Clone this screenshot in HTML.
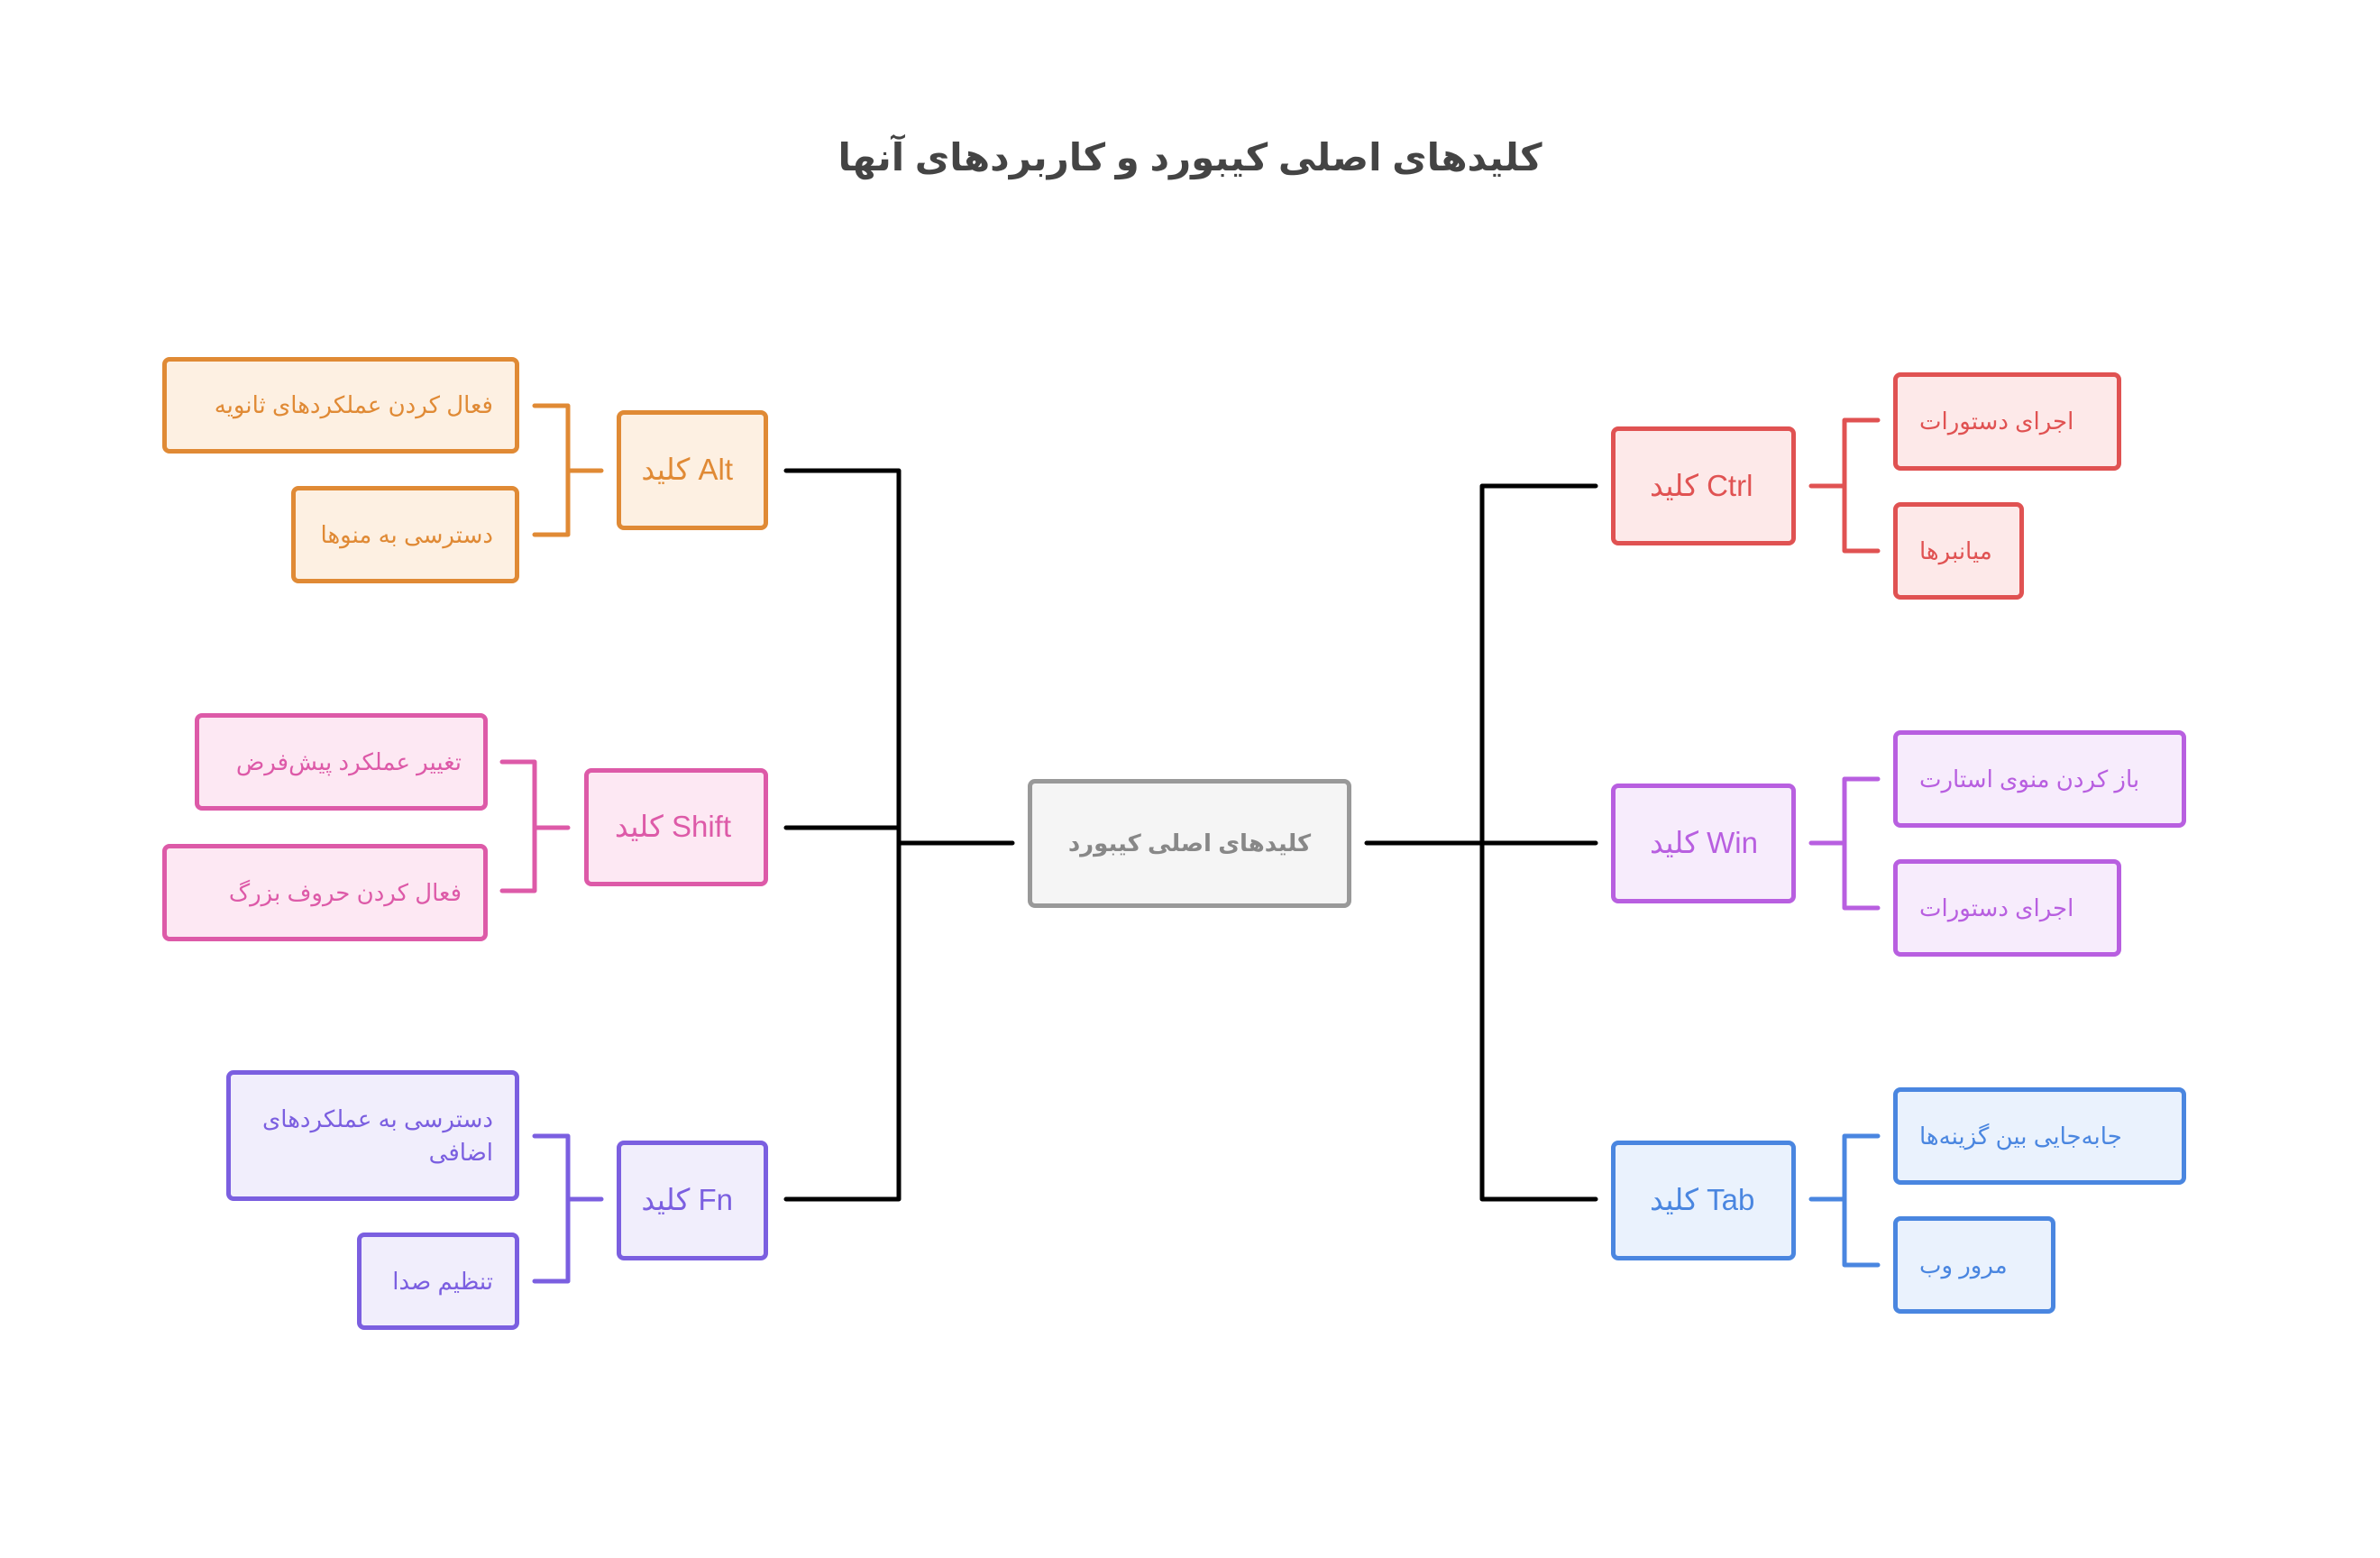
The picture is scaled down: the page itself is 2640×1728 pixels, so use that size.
<!DOCTYPE html>
<html><head><meta charset="utf-8"><style>
body{margin:0;width:2640px;height:1728px;background:#fff;position:relative;overflow:hidden;font-family:"Liberation Sans","DejaVu Sans",sans-serif}
.b{position:absolute;box-sizing:border-box;border:5px solid;border-radius:8px;display:flex;align-items:center;direction:rtl;font-size:26px;line-height:1.4;white-space:nowrap}
.r{justify-content:flex-start;padding:0 24px;text-align:right}
.k{font-size:33px;direction:ltr}
.o{border-color:#e08a35;background:#fdf0e2;color:#e08a35}
.p{border-color:#dd5aa8;background:#fde8f3;color:#dd5aa8}
.v{border-color:#7b5fe0;background:#f1eefc;color:#7b5fe0}
.red{border-color:#e05252;background:#fde9e9;color:#e05252}
.w{border-color:#b85fe0;background:#f7ecfc;color:#b85fe0}
.bl{border-color:#4a86e0;background:#eaf2fd;color:#4a86e0}
.t{position:absolute;left:0;width:2640px;top:150px;text-align:center;font-size:42px;font-weight:bold;color:#444;direction:rtl}
</style></head><body>
<div class="t">کلیدهای اصلی کیبورد و کاربردهای آنها</div>
<svg width="2640" height="1728" style="position:absolute;left:0;top:0" fill="none" stroke-linecap="round" stroke-linejoin="round">
<g stroke="#000" stroke-width="5">
<path d="M872 522H997V1330H872M872 918H997M997 935H1123"/>
<path d="M1516 935H1770M1770 539H1644V1330H1770M1644 935H1770"/>
</g>
<g stroke-width="5">
<path stroke="#e08a35" d="M593 450H630V593H593M630 522H667"/>
<path stroke="#dd5aa8" d="M557 845H593V988H557M593 918H630"/>
<path stroke="#7b5fe0" d="M593 1260H630V1421H593M630 1330H667"/>
<path stroke="#e05252" d="M2009 539H2046M2083 466H2046V611H2083"/>
<path stroke="#b85fe0" d="M2009 935H2046M2083 864H2046V1007H2083"/>
<path stroke="#4a86e0" d="M2009 1330H2046M2083 1260H2046V1403H2083"/>
</g>
</svg>
<div class="b o r" style="left:180px;top:396px;width:396px;height:107px">فعال کردن عملکردهای ثانویه</div>
<div class="b o r" style="left:323px;top:539px;width:253px;height:108px">دسترسی به منوها</div>
<div class="b o k" style="left:684px;top:455px;width:168px;height:133px;justify-content:flex-end;padding:0 34px">کلید Alt</div>
<div class="b p r" style="left:216px;top:791px;width:325px;height:108px">تغییر عملکرد پیش‌فرض</div>
<div class="b p r" style="left:180px;top:936px;width:361px;height:108px">فعال کردن حروف بزرگ</div>
<div class="b p k" style="left:648px;top:852px;width:204px;height:131px;justify-content:flex-end;padding:0 36px">کلید Shift</div>
<div class="b v r" style="left:251px;top:1187px;width:325px;height:145px">دسترسی به عملکردهای<br>اضافی</div>
<div class="b v r" style="left:396px;top:1367px;width:180px;height:108px">تنظیم صدا</div>
<div class="b v k" style="left:684px;top:1265px;width:168px;height:133px;justify-content:flex-end;padding:0 34px">کلید Fn</div>
<div class="b" style="left:1140px;top:864px;width:359px;height:143px;border-color:#999;background:#f5f5f5;color:#888;font-weight:bold;justify-content:center">کلیدهای اصلی کیبورد</div>
<div class="b red k" style="left:1787px;top:473px;width:205px;height:132px;padding:0 38px">کلید Ctrl</div>
<div class="b red" style="left:2100px;top:413px;width:253px;height:109px;justify-content:flex-end;padding:0 24px">اجرای دستورات</div>
<div class="b red" style="left:2100px;top:557px;width:145px;height:108px;justify-content:flex-end;padding:0 24px">میانبرها</div>
<div class="b w k" style="left:1787px;top:869px;width:205px;height:133px;padding:0 38px">کلید Win</div>
<div class="b w" style="left:2100px;top:810px;width:325px;height:108px;justify-content:flex-end;padding:0 24px">باز کردن منوی استارت</div>
<div class="b w" style="left:2100px;top:953px;width:253px;height:108px;justify-content:flex-end;padding:0 24px">اجرای دستورات</div>
<div class="b bl k" style="left:1787px;top:1265px;width:205px;height:133px;padding:0 38px">کلید Tab</div>
<div class="b bl" style="left:2100px;top:1206px;width:325px;height:108px;justify-content:flex-end;padding:0 24px">جابه‌جایی بین گزینه‌ها</div>
<div class="b bl" style="left:2100px;top:1349px;width:180px;height:108px;justify-content:flex-end;padding:0 24px">مرور وب</div>
</body></html>
